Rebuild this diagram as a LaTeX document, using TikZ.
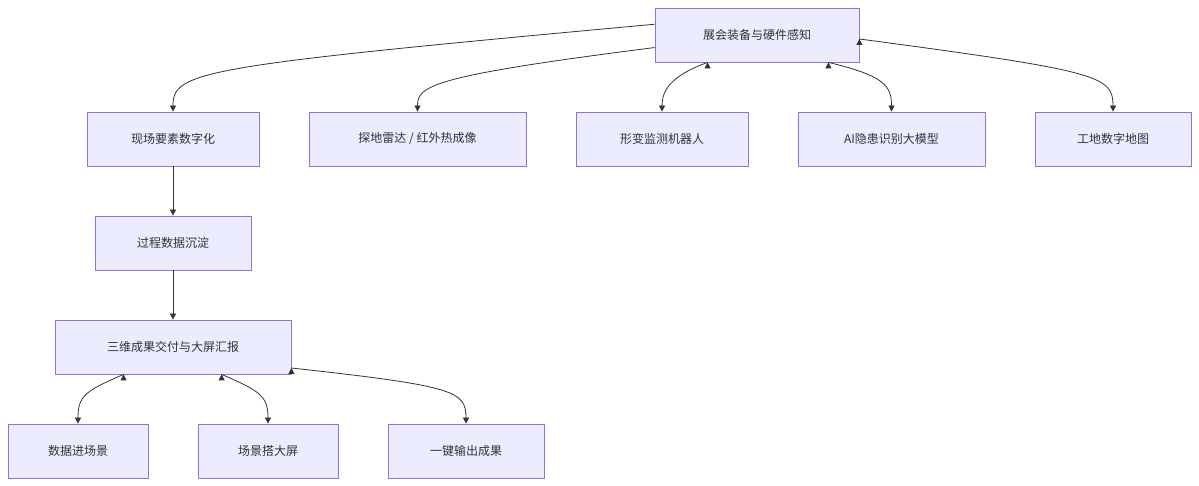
\documentclass[tikz,border=0pt]{standalone}
\usepackage{fontspec}
\setmainfont{Noto Sans CJK SC}
\usetikzlibrary{positioning, arrows.meta}
\definecolor{boxfill}{HTML}{ECECFF}
\definecolor{boxline}{HTML}{9370DB}
\definecolor{edge}{HTML}{333333}
\tikzset{
  box/.style={draw=boxline, fill=boxfill, line width=0.8pt, minimum height=54pt,
    inner sep=0pt, font=\fontsize{12}{14}\selectfont, text=edge},
  link/.style={draw=edge, line width=0.8pt, -{Triangle[length=6pt,width=6pt]}}
}
\begin{document}
\begin{tikzpicture}[x=1pt, y=1pt]
  \useasboundingbox (0,0) rectangle (1199,486);
  \node[box, minimum width=204pt] (EX) at (757, 451) {展会装备与硬件感知};
  \node[box, minimum width=172pt] (SD) at (173, 347) {现场要素数字化};
  \node[box, minimum width=217pt] (GR) at (417.5, 347) {探地雷达 / 红外热成像};
  \node[box, minimum width=172pt] (DR) at (662, 347) {形变监测机器人};
  \node[box, minimum width=187pt] (AI) at (891.5, 347) {AI隐患识别大模型};
  \node[box, minimum width=156pt] (DM) at (1113, 347) {工地数字地图};
  \node[box, minimum width=156pt] (PD) at (173, 243) {过程数据沉淀};
  \node[box, minimum width=236pt] (TD) at (173, 139) {三维成果交付与大屏汇报};
  \node[box, minimum width=140pt] (DS) at (78, 35) {数据进场景};
  \node[box, minimum width=140pt] (SS) at (268, 35) {场景搭大屏};
  \node[box, minimum width=156pt] (OR) at (466, 35) {一键输出成果};

  \draw[link] (EX.174) .. controls (200,420) and (173,415) .. (SD.north);
  \draw[link] (EX.187) .. controls (430,410) and (417.5,400) .. (GR.north);
  \draw[link] (EX.south west) ++(53,0) coordinate (e1);
  \draw[link] (e1) .. controls (670,410) and (662,395) .. (DR.north);
  \draw[link] (EX.south east) ++(-31,0) coordinate (e2);
  \draw[link] (e2) .. controls (885,410) and (891.5,400) .. (AI.north);
  \draw[link] (EX.east) ++(0,-4) coordinate (e3);
  \draw[link] (e3) .. controls (1100,415) and (1113,410) .. (DM.north);
  \draw[link] (SD) -- (PD);
  \draw[link] (PD) -- (TD);
  \draw[link] (TD.south west) ++(69,0) coordinate (t1);
  \draw[link] (t1) .. controls (85,95) and (78,90) .. (DS.north);
  \draw[link] (TD.south west) ++(167,0) coordinate (t2);
  \draw[link] (t2) .. controls (260,95) and (268,90) .. (SS.north);
  \draw[link] (TD.east) ++(0,-21) coordinate (t3);
  \draw[link] (t3) .. controls (455,100) and (466,95) .. (OR.north);
\end{tikzpicture}
\end{document}
